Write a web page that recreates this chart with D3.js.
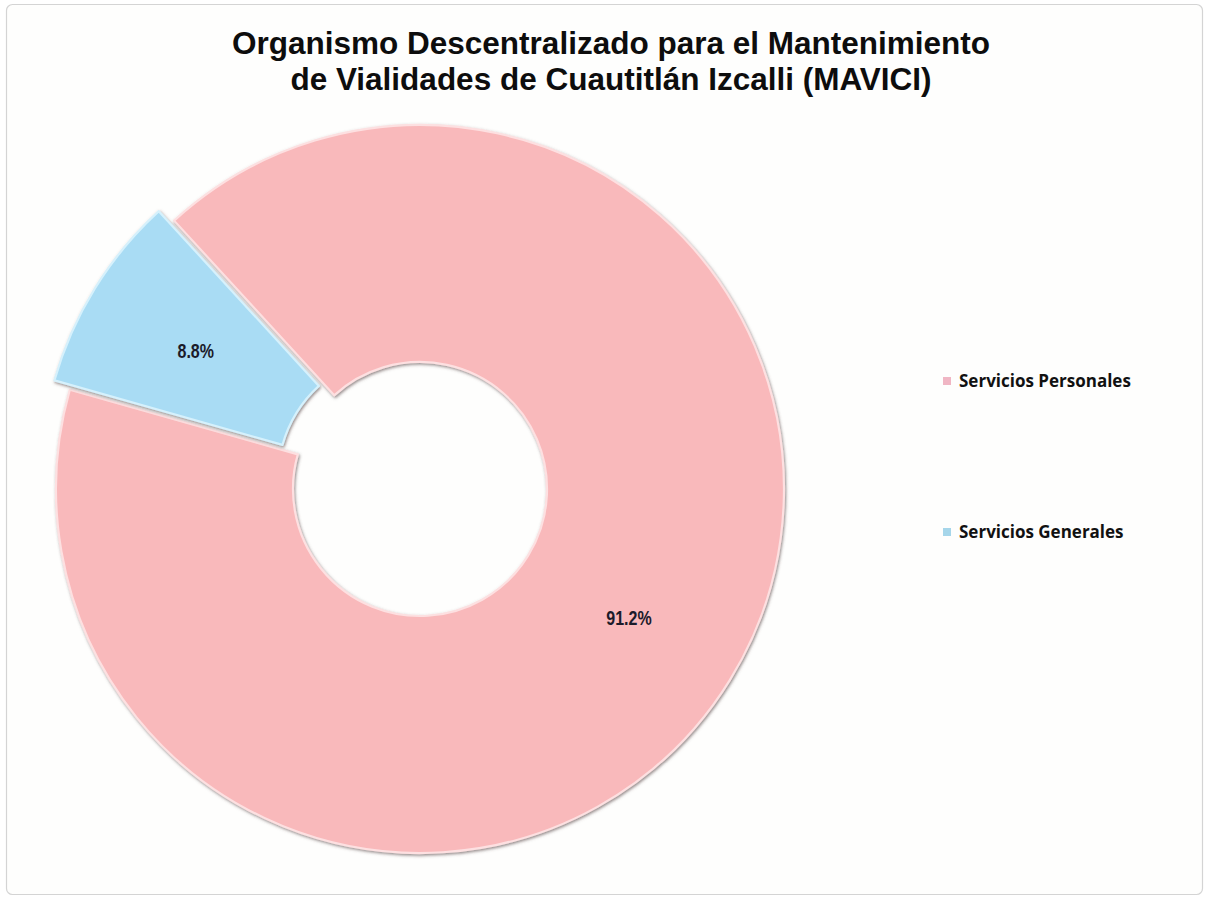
<!DOCTYPE html>
<html>
<head>
<meta charset="utf-8">
<script src="https://cdn.jsdelivr.net/npm/d3@7"></script>
<style>
  html, body { margin: 0; padding: 0; background: #ffffff; }
  svg { display: block; }
</style>
</head>
<body>
<svg id="chart" width="1205" height="905"></svg>
<script>
const titleLines = ["Organismo Descentralizado para el Mantenimiento", "de Vialidades de Cuautitlán Izcalli (MAVICI)"];
const categories = ["Servicios Personales", "Servicios Generales"];
const values = [91.2, 8.8];
const labels = ["91.2%", "8.8%"];
const colors = ["#f9b9bb", "#a9dcf4"];
const edgeColors = ["#fde0e1", "#d6f1fc"];
const legendColors = ["#f0b6c4", "#a6d6ea"];
const explode = [0, 18];

const svg = d3.select("#chart");
const defs = svg.append("defs");
const f = defs.append("filter").attr("id", "shadow").attr("x", "-10%").attr("y", "-10%").attr("width", "120%").attr("height", "120%");
f.append("feDropShadow").attr("dx", 1).attr("dy", 1.5).attr("stdDeviation", 1.6)
  .attr("flood-color", "#5a4a4a").attr("flood-opacity", 0.65);

// frame
svg.append("rect").attr("x", 6.5).attr("y", 4.5).attr("width", 1196).attr("height", 890)
  .attr("rx", 6).attr("fill", "#fefefd").attr("stroke", "#d4d4d4").attr("stroke-width", 1.2);

// title
svg.append("text").attr("x", 611).attr("y", 54).attr("text-anchor", "middle")
  .attr("font-family", "Liberation Sans, Arial, sans-serif").attr("font-weight", "bold")
  .attr("font-size", 31.5).attr("fill", "#0d0d0d")
  .selectAll("tspan").data(titleLines).join("tspan")
  .attr("x", 611).attr("dy", (d, i) => i === 0 ? 0 : 36).text(d => d);

const cx = 420, cy = 489, rOuter = 364, rInner = 127;
const pie = d3.pie().sort(null).value(d => d)
  .startAngle(-42.5 * Math.PI / 180).endAngle((360 - 42.5) * Math.PI / 180);
const arcs = pie(values);
const arc = d3.arc().innerRadius(rInner).outerRadius(rOuter);

const g = svg.append("g").attr("transform", `translate(${cx},${cy})`);
const slices = g.selectAll("g.slice").data(arcs).join("g").attr("class", "slice")
  .attr("transform", (d, i) => {
    const a = (d.startAngle + d.endAngle) / 2;
    return `translate(${Math.sin(a) * explode[i]},${-Math.cos(a) * explode[i]})`;
  });
slices.append("path").attr("d", arc)
  .attr("fill", (d, i) => colors[i])
  .attr("stroke", (d, i) => edgeColors[i]).attr("stroke-width", 2.2)
  .attr("stroke-linejoin", "round")
  .attr("filter", "url(#shadow)");
slices.append("text")
  .attr("transform", d => { const c = arc.centroid(d); return `translate(${c[0]},${c[1]}) scale(0.8,1)`; })
  .attr("text-anchor", "middle").attr("dy", "0.35em")
  .attr("font-family", "Liberation Sans, Arial, sans-serif")
  .attr("font-weight", "bold").attr("font-size", 20).attr("fill", "#1b1b2a")
  .text((d, i) => labels[i]);

// legend
const legend = svg.append("g").selectAll("g").data(categories).join("g")
  .attr("transform", (d, i) => `translate(943,${381 + i * 151})`);
legend.append("rect").attr("x", 0).attr("y", -4).attr("width", 8).attr("height", 8)
  .attr("fill", (d, i) => legendColors[i]);
legend.append("text").attr("x", 16).attr("y", 0).attr("dy", "0.35em")
  .attr("font-family", "Open Sans, DejaVu Sans, sans-serif").attr("font-weight", "bold")
  .attr("font-size", 17).attr("fill", "#111")
  .text(d => d);
</script>
</body>
</html>
